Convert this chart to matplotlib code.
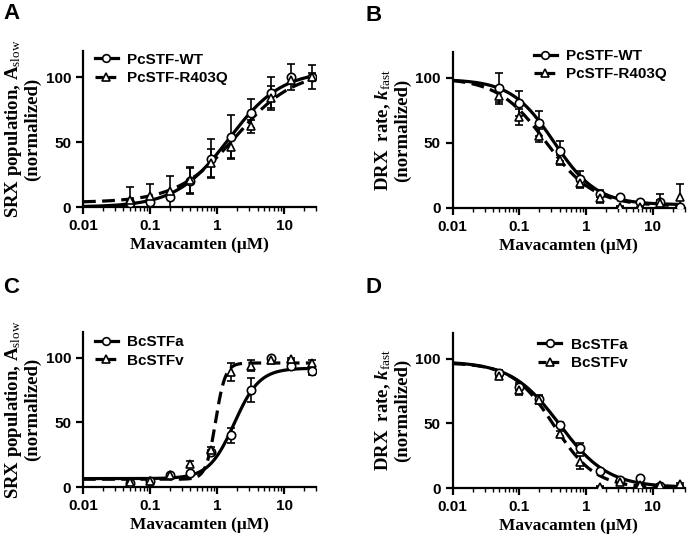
import numpy as np
import matplotlib
matplotlib.use("Agg")
import matplotlib.pyplot as plt
from matplotlib.ticker import FixedLocator, FixedFormatter, LogLocator, NullFormatter

plt.rcParams['font.family'] = ['Liberation Sans', 'DejaVu Sans']
plt.rcParams['mathtext.fontset'] = 'custom'
plt.rcParams['mathtext.rm'] = 'Liberation Serif'
plt.rcParams['mathtext.it'] = 'Liberation Serif:italic:bold'
plt.rcParams['mathtext.bf'] = 'Liberation Serif:bold'

# --- concentrations (uM) ---
conc = [0.05, 0.1, 0.2, 0.4, 0.8, 1.6, 3.2, 6.4, 12.8, 25.6]

# --- Panel A: SRX population (PcSTF) ---
a_wt = [3, 4, 8, 20, 37, 54, 72, 88, 100, 100]
a_wt_err = [2, 2, 2, 10, 15, 17, 11, 12, 10, 9]
a_mut = [5.5, 8.5, 12, 21, 34, 46, 62, 84, 98, 100]
a_mut_err = [10, 9, 12, 10, 11, 8, 5, 9, 3, 3]

# --- Panel B: DRX rate (PcSTF) ---
b_wt = [92.5, 80.5, 65, 44, 22, 11, 8.5, 4.5, 4.5, 0.5]
b_wt_err = [11, 9.5, 9.5, 7.5, 6.5, 2.5, 1, 1, 6, 1]
b_mut = [86, 70, 55.5, 37, 19.5, 7.5, 1, 0.5, 4, 8.5]
b_mut_err = [6, 6, 5, 4, 3, 3.5, 0.5, 0.5, 2, 10]

# --- Panel C: SRX population (BcSTF) ---
c_a = [3, 5, 9, 10.5, 27, 40, 75, 100, 94, 90]
c_a_err = [1, 1, 1, 1, 2, 6, 9, 1, 1, 3]
c_v = [4, 5, 9, 18, 29, 89, 94, 98, 99, 96]
c_v_err = [1, 1, 1, 2, 2, 7, 4, 1, 1, 2]

# --- Panel D: DRX rate (BcSTF) ---
d_a = [89, 78.5, 69, 49, 31, 13, 6.5, 7.5, 1.5, np.nan]
d_a_err = [2, 3, 3, 2, 4, 1, 1, 1, 1, 0]
d_v = [87, 76, 68, 42, 20, 1, 5, 2.3, 2, 3]
d_v_err = [2, 4, 3, 2, 5, 0.5, 1, 0.5, 1, 1]

# fitted Hill parameters: (bottom, top, ec50, hill)
fit_a_wt = (0, 105, 1.5, 1.1)
fit_a_mut = (3.5, 105, 1.9, 1.0)
fit_b_wt = (2.5, 99, 0.33, 1.35)
fit_b_mut = (1.5, 100, 0.25, 1.2)
fit_c_a = (6.5, 92, 1.8, 2.3)
fit_c_v = (6, 96, 0.95, 6)
fit_d_a = (0.5, 98, 0.4, 1.2)
fit_d_v = (0, 97, 0.33, 1.4)


def hill_up(x, p):
    bot, top, ec, n = p
    return bot + (top - bot) * x**n / (ec**n + x**n)


def hill_down(x, p):
    bot, top, ec, n = p
    return bot + (top - bot) * ec**n / (ec**n + x**n)


fig = plt.figure(figsize=(6.88, 5.37), dpi=100)

xfit = np.logspace(-2, np.log10(25.6), 300)


def panel(rect, letter, letter_xy, ylab, s1, e1, f1, s2, e2, f2, up, names, leg_anchor):
    ax = fig.add_axes(rect)
    fn = hill_up if up else hill_down
    ax.plot(xfit, fn(xfit, f1), color='black', lw=2.3, zorder=2)
    ax.plot(xfit, fn(xfit, f2), color='black', lw=2.3, dashes=(4, 2), zorder=2)
    ax.errorbar(conc, s1, yerr=e1, fmt='none', ecolor='black', elinewidth=1.2,
                capsize=3, capthick=1.2, zorder=3)
    ax.errorbar(conc, s2, yerr=e2, fmt='none', ecolor='black', elinewidth=1.2,
                capsize=3, capthick=1.2, zorder=3)
    ax.plot(conc, s1, 'o', ms=6, mfc='white', mec='black', mew=1.2, zorder=4)
    ax.plot(conc, s2, '^', ms=6, mfc='white', mec='black', mew=1.2, zorder=4)

    # legend proxies
    h1, = ax.plot([], [], color='black', lw=2.3, marker='o', ms=5.5, mfc='white',
                  mec='black', mew=1.2)
    h2, = ax.plot([], [], color='black', lw=2.3, dashes=(2.5, 1.5), marker='^', ms=5.5,
                  mfc='white', mec='black', mew=1.2)
    ax.legend([h1, h2], names, loc='upper left', bbox_to_anchor=leg_anchor,
              frameon=False, borderaxespad=0, borderpad=0, handlelength=1.5,
              handletextpad=0.6, labelspacing=0.3,
              prop={'weight': 'bold', 'size': 11})

    ax.set_xscale('log')
    ax.set_xlim(0.01, 30)
    ax.set_ylim(0, 120)
    ax.set_yticks([0, 50, 100])
    ax.xaxis.set_major_locator(FixedLocator([0.01, 0.1, 1, 10]))
    ax.xaxis.set_major_formatter(FixedFormatter(['0.01', '0.1', '1', '10']))
    ax.xaxis.set_minor_locator(LogLocator(base=10, subs=np.arange(2, 10)))
    ax.xaxis.set_minor_formatter(NullFormatter())
    for sp in ['top', 'right']:
        ax.spines[sp].set_visible(False)
    for sp in ['left', 'bottom']:
        ax.spines[sp].set_linewidth(1.6)
    ax.tick_params(which='major', direction='out', length=5, width=1.6,
                   labelsize=11)
    ax.tick_params(which='minor', direction='out', length=3, width=1.0)
    for lab in ax.get_xticklabels() + ax.get_yticklabels():
        lab.set_fontweight('bold')
    ax.set_xlabel('Mavacamten (\u03bcM)', family='Liberation Serif',
                  weight='bold', size=12.5, labelpad=3)
    ax.set_ylabel(ylab, family='Liberation Serif', weight='bold', size=13.5,
                  labelpad=3, linespacing=1.05)
    fig.text(letter_xy[0] / 688, 1 - letter_xy[1] / 537, letter, weight='bold',
             size=16, va='top', ha='left')
    return ax


srx_lab = 'SRX population, A$_{\\mathrm{slow}}$\n(normalized)'
drx_lab = 'DRX  rate, $k_{\\mathrm{fast}}$\n(normalized)'

panel([0.1206, 0.6145, 0.339, 0.2905], 'A', (3, 3), srx_lab,
      a_wt, a_wt_err, fit_a_wt, a_mut, a_mut_err, fit_a_mut, True,
      ['PcSTF-WT', 'PcSTF-R403Q'], (0.05, 0.99))
panel([0.658, 0.6127, 0.337, 0.2905], 'B', (365, 5), drx_lab,
      b_wt, b_wt_err, fit_b_wt, b_mut, b_mut_err, fit_b_mut, False,
      ['PcSTF-WT', 'PcSTF-R403Q'], (0.35, 1.02))
panel([0.1206, 0.0931, 0.339, 0.2887], 'C', (3, 277), srx_lab,
      c_a, c_a_err, fit_c_a, c_v, c_v_err, fit_c_v, True,
      ['BcSTFa', 'BcSTFv'], (0.05, 0.98))
panel([0.658, 0.0912, 0.337, 0.2887], 'D', (365, 277), drx_lab,
      d_a, d_a_err, fit_d_a, d_v, d_v_err, fit_d_v, False,
      ['BcSTFa', 'BcSTFv'], (0.37, 0.97))

fig.savefig('out.png', dpi=100)
